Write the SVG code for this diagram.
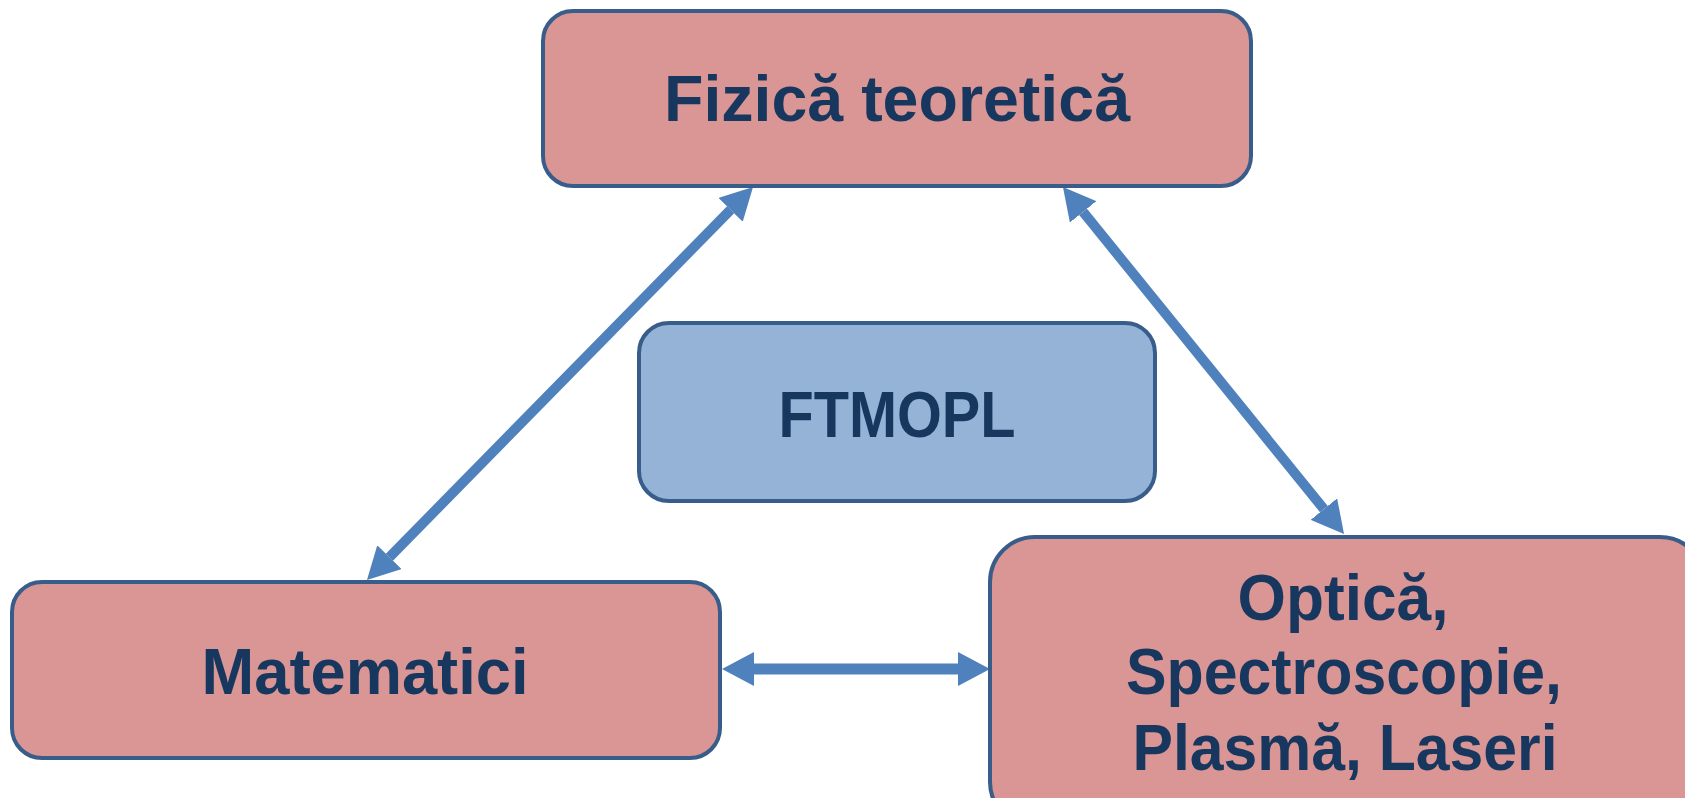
<svg xmlns="http://www.w3.org/2000/svg" width="1685" height="798" viewBox="0 0 1685 798">
  <style>
    .pink { fill: #D99694; stroke: #385D8A; stroke-width: 4; }
    .blue { fill: #95B3D7; stroke: #385D8A; stroke-width: 4; }
    .lbl { font-family: "Liberation Sans", Arial, sans-serif; font-weight: bold; font-size: 64px; fill: #17375E; text-anchor: middle; }
    .conn { stroke: #4F81BD; stroke-width: 10; fill: none; marker-start: url(#head); marker-end: url(#head); }
  </style>
  <defs>
    <marker id="head" markerUnits="userSpaceOnUse" viewBox="0 -17 32 34" markerWidth="32" markerHeight="34" refX="0" refY="0" orient="auto-start-reverse">
      <path d="M0,-17 L32,0 L0,17 z" fill="#4F81BD"/>
    </marker>
  </defs>
  <rect width="1685" height="798" fill="#FFFFFF"/>
  <g id="connectors">
    <line class="conn" x1="730.6" y1="209.8" x2="389.4" y2="557.2"/>
    <line class="conn" x1="1083.1" y1="211.9" x2="1323.9" y2="509.1"/>
    <line class="conn" x1="754" y1="669" x2="958" y2="669" style="stroke-width:11"/>
  </g>
  <g id="fizica-teoretica">
    <rect class="pink" x="543" y="11" width="708" height="175" rx="30"/>
    <text class="lbl" x="897" y="121" textLength="466" lengthAdjust="spacingAndGlyphs">Fizică teoretică</text>
  </g>
  <g id="ftmopl">
    <rect class="blue" x="639" y="323" width="516" height="178" rx="30"/>
    <text class="lbl" x="897" y="437" textLength="237" lengthAdjust="spacingAndGlyphs">FTMOPL</text>
  </g>
  <g id="matematici">
    <rect class="pink" x="12" y="582" width="708" height="176" rx="30"/>
    <text class="lbl" x="365" y="694" textLength="327" lengthAdjust="spacingAndGlyphs">Matematici</text>
  </g>
  <g id="optica">
    <rect class="pink" x="990" y="537" width="715" height="290" rx="45"/>
    <text class="lbl" x="1343" y="620" textLength="211" lengthAdjust="spacingAndGlyphs">Optică,</text>
    <text class="lbl" x="1344" y="694" textLength="436" lengthAdjust="spacingAndGlyphs">Spectroscopie,</text>
    <text class="lbl" x="1345" y="770" textLength="425" lengthAdjust="spacingAndGlyphs">Plasmă, Laseri</text>
  </g>
</svg>
